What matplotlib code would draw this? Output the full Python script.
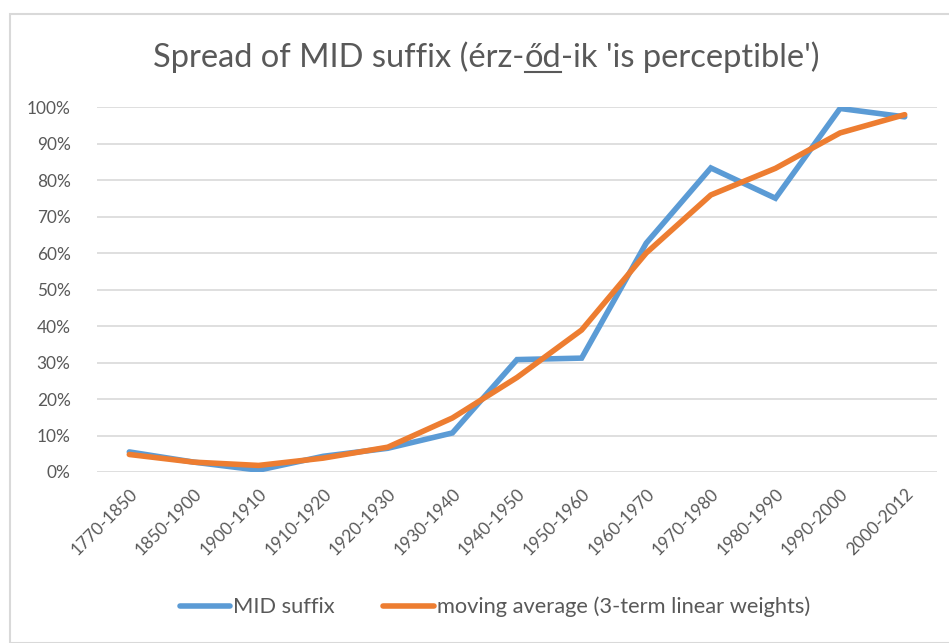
import matplotlib
matplotlib.use("Agg")
import matplotlib.pyplot as plt
from matplotlib.patches import Rectangle
from matplotlib.lines import Line2D

categories = ["1770-1850", "1850-1900", "1900-1910", "1910-1920", "1920-1930",
              "1930-1940", "1940-1950", "1950-1960", "1960-1970", "1970-1980",
              "1980-1990", "1990-2000", "2000-2012"]
mid_suffix = [5.5, 2.7, 0.5, 4.3, 6.5, 10.7, 30.8, 31.2, 62.7, 83.3, 75.0, 99.6, 97.3]
moving_avg = [4.8, 2.7, 1.8, 3.8, 6.8, 14.8, 25.9, 38.9, 60.0, 75.9, 83.2, 92.9, 97.9]
yticks = [0, 10, 20, 30, 40, 50, 60, 70, 80, 90, 100]
ytick_labels = [f"{v}%" for v in yticks]
series_names = ["MID suffix", "moving average (3-term linear weights)"]

title_pre = "Spread of MID suffix (érz-"
title_ul = "őd"
title_post = "-ik 'is perceptible')"

FONT = "Lato"
TXT = "#595959"
W, H = 949, 643

fig = plt.figure(figsize=(W / 100, H / 100), dpi=100)
fig.patch.set_facecolor("white")
r = fig.canvas.get_renderer()


def text_width(s, size, family):
    t = fig.text(0, 0, s, fontsize=size, family=family)
    w = t.get_window_extent(r).width
    t.remove()
    return w


fig.add_artist(Rectangle((9.5 / W, 0), 1.0, 1 - 14 / H, transform=fig.transFigure,
                         fill=False, edgecolor="#d9d9d9", linewidth=1.5))

ax = fig.add_axes([97 / W, 1 - 472 / H, (937 - 97) / W, (472 - 107) / H])
x = list(range(len(categories)))
ax.plot(x, mid_suffix, color="#5b9bd5", linewidth=4.0, solid_capstyle="round",
        solid_joinstyle="miter", label=series_names[0], zorder=3)
ax.plot(x, moving_avg, color="#ed7d31", linewidth=4.0, solid_capstyle="round",
        solid_joinstyle="round", label=series_names[1], zorder=4)

# tick label size: match reference label widths
tfs = 12 * 86 / text_width("1770-1850", 12, FONT)

ax.set_xlim(-0.5, len(categories) - 0.5)
ax.set_ylim(0, 100)
ax.set_yticks(yticks)
ax.set_yticklabels(ytick_labels, fontsize=tfs, color=TXT, family=FONT)
ax.set_xticks(x)
ax.set_xticklabels(categories, rotation=45, ha="right", rotation_mode="anchor",
                   fontsize=tfs, color=TXT, family=FONT)
ax.tick_params(axis="both", length=0)
ax.tick_params(axis="y", pad=19)
ax.tick_params(axis="x", pad=10)
for s in ax.spines.values():
    s.set_visible(False)
ax.grid(axis="y", color="#d9d9d9", linewidth=1.2)
ax.set_axisbelow(True)

# Title with underlined part, sized to the reference width (~667 px)
full = title_pre + title_ul + title_post
fs = 20 * 667 / text_width(full, 20, FONT)
widths = [text_width(s, fs, FONT) for s in (title_pre, title_ul, title_post)]
total = sum(widths)
cx = 486.5
ty = H - 67
x0 = cx - total / 2
xs = [x0, x0 + widths[0], x0 + widths[0] + widths[1]]
for s, xx in zip((title_pre, title_ul, title_post), xs):
    fig.text(xx / W, ty / H, s, fontsize=fs, family=FONT, color=TXT, va="baseline", ha="left")
fig.add_artist(Line2D([xs[1] / W, (xs[1] + widths[1]) / W], [(ty - 5) / H, (ty - 5) / H],
                      transform=fig.transFigure, color=TXT, linewidth=1.5))

# Legend, text sized to reference width (~376 px for the second entry)
lfs = 14 * 376 / text_width(series_names[1], 14, FONT)
leg = fig.legend(loc="center", bbox_to_anchor=(495 / W, 1 - 607 / H), ncol=2, frameon=False,
                 prop={"family": FONT, "size": lfs}, handlelength=2.3, handletextpad=0.15,
                 columnspacing=2.2)
for t in leg.get_texts():
    t.set_color(TXT)

fig.savefig("out.png", dpi=100, facecolor="white")
